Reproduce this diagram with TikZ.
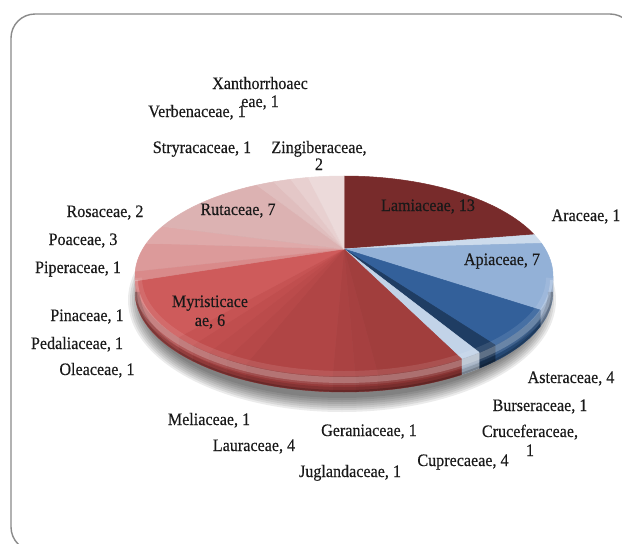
\documentclass[tikz,border=0pt]{standalone}
\usepackage{fontspec}
\newfontfamily\lblfont{Liberation Serif}[FakeStretch=0.92,FakeBold=0.3]
\definecolor{cLam}{HTML}{782B2B}
\definecolor{cAra}{HTML}{CCDBEC}
\definecolor{cApi}{HTML}{93B1D7}
\definecolor{cAst}{HTML}{33609A}
\definecolor{cBur}{HTML}{1F3D63}
\definecolor{cCru}{HTML}{C2D3E8}
\definecolor{cCup}{HTML}{A13E3D}
\definecolor{cJug}{HTML}{A64040}
\definecolor{cGer}{HTML}{AA4242}
\definecolor{cLau}{HTML}{B04545}
\definecolor{cMel}{HTML}{B64848}
\definecolor{cOle}{HTML}{BB4B4B}
\definecolor{cPed}{HTML}{C04E4E}
\definecolor{cPin}{HTML}{C65353}
\definecolor{cMyr}{HTML}{CE5B5B}
\definecolor{cPip}{HTML}{D98A8A}
\definecolor{cPoa}{HTML}{DC9A9A}
\definecolor{cRos}{HTML}{DFA9A9}
\definecolor{cRut}{HTML}{DCB2B2}
\definecolor{cSty}{HTML}{E0BEBE}
\definecolor{cVer}{HTML}{E4C7C7}
\definecolor{cXan}{HTML}{E8D0D0}
\definecolor{cZin}{HTML}{ECDADA}
\definecolor{frameGray}{HTML}{8A8A8A}
\newcommand\toparam[2]{%
  \pgfmathsetmacro\myS{sin(#1)}%
  \pgfmathsetmacro\myST{(\myS+0.12)/(1+0.12*\myS)}%
  \pgfmathsetmacro\myCT{cos(#1)*sqrt(1-0.0144)/(1+0.12*\myS)}%
  \pgfmathsetmacro\myTZ{atan2(\myST,\myCT)}%
  \pgfmathsetmacro#2{\myTZ+360*round((#1-\myTZ)/360)}%
}
\def\slicelist{0/13/cLam, 13/14/cAra, 14/21/cApi, 21/25/cAst, 25/26/cBur, 26/27/cCru, 27/31/cCup, 31/32/cJug, 32/33/cGer, 33/37/cLau, 37/38/cMel, 38/39/cOle, 39/40/cPed, 40/41/cPin, 41/47/cMyr, 47/48/cPip, 48/51/cPoa, 51/53/cRos, 53/60/cRut, 60/61/cSty, 61/62/cVer, 62/63/cXan, 63/65/cZin}
\tikzset{
  lbl/.style={font=\lblfont\fontsize{17.5}{19}\selectfont, text=black!90, inner sep=0pt, anchor=base},
  frameline/.style={draw=frameGray, line width=1.4pt, rounded corners=24pt},
  ell/.style={x radius=209pt, y radius=100pt},
}
\begin{document}
\begin{tikzpicture}[x=1pt,y=1pt]
\useasboundingbox (0,0) rectangle (622,-544);
\fill[white] (0,0) rectangle (622,-544);
\draw[frameline] (11,-14) rectangle (634,-551);
% shadow
\foreach \i in {0,...,7}{
  \pgfmathsetmacro\srx{200+2*\i}
  \pgfmathsetmacro\sry{98+2*\i}
  \fill[black, opacity=0.08] (342,-300) ellipse[x radius=\srx pt, y radius=\sry pt];
}
% sides
\foreach \a/\b/\col in \slicelist {
  \pgfmathsetmacro\thA{90-\a*5.538462}
  \pgfmathsetmacro\thB{90-\b*5.538462}
  \toparam{\thA}{\tA}
  \toparam{\thB}{\tB}
  \pgfmathsetmacro\sA{min(\tA,0)}
  \pgfmathsetmacro\sB{max(\tB,-180)}
  \pgfmathsetmacro\sD{\sA-\sB}
  \ifdim\sD pt>0.2pt
    \fill[\col!85!black, draw=\col!85!black, line width=0.4pt]
      ({344+209*cos(\sA)},{-276+100*sin(\sA)})
      arc[start angle=\sA, end angle=\sB, ell]
      -- ++(0,-16)
      arc[start angle=\sB, end angle=\sA, ell] -- cycle;
  \fi
}
% top faces
\coordinate (apex) at (344,-249);
\foreach \a/\b/\col in \slicelist {
  \pgfmathsetmacro\thA{90-\a*5.538462}
  \pgfmathsetmacro\thB{90-\b*5.538462}
  \toparam{\thA}{\tA}
  \toparam{\thB}{\tB}
  \fill[\col, draw=\col, line width=0.5pt, line join=round]
    (apex) -- ({344+209*cos(\tA)},{-276+100*sin(\tA)})
    arc[start angle=\tA, end angle=\tB, ell] -- cycle;
}
% bevel light and shade
\begin{scope}
  \clip (553,-276) arc[start angle=0, end angle=180, ell] -- ++(0,-16)
        arc[start angle=180, end angle=360, ell] -- cycle;
  \draw[white, opacity=0.10, line width=14pt] (553,-278) arc[start angle=0, end angle=-180, ell];
  \draw[white, opacity=0.22, line width=6pt] (553,-280) arc[start angle=0, end angle=-180, ell];
  \draw[black, opacity=0.12, line width=10pt] (553,-292) arc[start angle=0, end angle=-180, ell];
  \draw[black, opacity=0.18, line width=4pt] (553,-292) arc[start angle=0, end angle=-180, ell];
\end{scope}
% labels
\node[lbl] (xan) at (260,-89) {Xanthorrhoaec};
\node[lbl] (xanb) at (260,-107) {eae, 1};
\node[lbl] (ver) at (197,-117) {Verbenaceae, 1};
\node[lbl] (sty) at (202,-153) {Stryracaceae, 1};
\node[lbl] (zin) at (319,-153) {Zingiberaceae,};
\node[lbl] (zinb) at (319,-170) {2};
\node[lbl] (lam) at (428,-211) {Lamiaceae, 13};
\node[lbl] (ara) at (586,-221) {Araceae, 1};
\node[lbl] (ros) at (105,-217) {Rosaceae, 2};
\node[lbl] (rut) at (238,-215) {Rutaceae, 7};
\node[lbl] (poa) at (83,-245) {Poaceae, 3};
\node[lbl] (pip) at (78,-273) {Piperaceae, 1};
\node[lbl] (api) at (502,-265) {Apiaceae, 7};
\node[lbl] (myr) at (210,-307) {Myristicace};
\node[lbl] (myrb) at (210,-326) {ae, 6};
\node[lbl] (pin) at (87,-321) {Pinaceae, 1};
\node[lbl] (ped) at (77,-349) {Pedaliaceae, 1};
\node[lbl] (ole) at (97,-375) {Oleaceae, 1};
\node[lbl] (ast) at (571,-383) {Asteraceae, 4};
\node[lbl] (bur) at (540,-411) {Burseraceae, 1};
\node[lbl] (mel) at (209,-425) {Meliaceae, 1};
\node[lbl] (ger) at (369,-436) {Geraniaceae, 1};
\node[lbl] (cru) at (530,-437) {Cruceferaceae,};
\node[lbl] (crub) at (530,-456) {1};
\node[lbl] (lau) at (254,-451) {Lauraceae, 4};
\node[lbl] (cup) at (463,-466) {Cuprecaeae, 4};
\node[lbl] (jug) at (350,-477) {Juglandaceae, 1};
\end{tikzpicture}
\end{document}
